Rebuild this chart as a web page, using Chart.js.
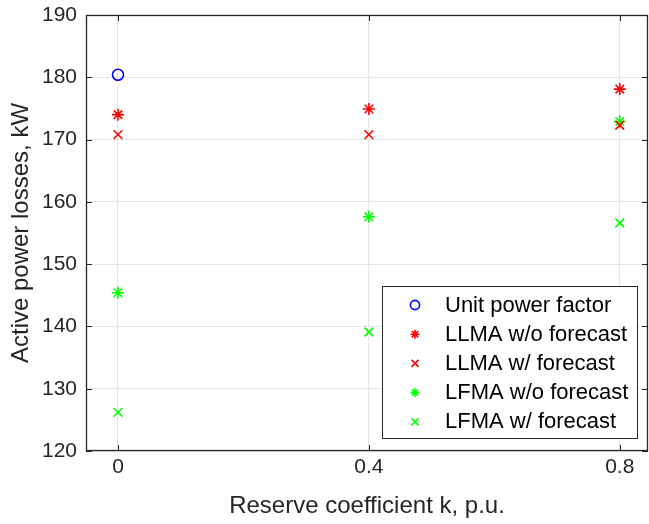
<!DOCTYPE html>
<html>
<head>
<meta charset="utf-8">
<script src="https://cdn.jsdelivr.net/npm/chart.js@4/dist/chart.umd.min.js"></script>
<style>
  body { margin: 0; background: #fff; }
  #wrap { width: 649px; height: 524px; }
</style>
</head>
<body>
<div id="wrap"><canvas id="lossChart" width="649" height="524"></canvas></div>
<script>
const reserveK = [0, 0.4, 0.8];
const xTicks = [0, 0.4, 0.8];
const yTicks = [120, 130, 140, 150, 160, 170, 180, 190];

const unitPF = [180.4];
const llmaNoFc = [174.0, 174.9, 178.1];
const llmaFc = [170.8, 170.8, 172.3];
const lfmaNoFc = [145.4, 157.6, 172.9];
const lfmaFc = [126.2, 139.1, 156.6];

const FONT = "'Liberation Sans', Arial, Helvetica, sans-serif";
const INK = '#262626';

function pts(values) {
  return values.map((v, i) => ({x: reserveK[i], y: v}));
}

function series(label, values, color, style, radius, legendRadius) {
  return {
    label: label,
    data: pts(values),
    pointStyle: style,
    pointRadius: radius,
    pointHoverRadius: radius,
    legendRadius: legendRadius,
    borderColor: color,
    backgroundColor: 'rgba(0,0,0,0)',
    pointBorderWidth: 1.6,
    showLine: false
  };
}

// keep the plot box exactly where the layout padding puts it
function noScalePadding(s) {
  s.paddingTop = 0;
  s.paddingBottom = 0;
  s.paddingLeft = 0;
  s.paddingRight = 0;
}

// inward ticks on all four sides, plus the dark frame
const framePlugin = {
  id: 'frame',
  afterDatasetsDraw(chart) {
    const {ctx, chartArea: a, scales} = chart;
    ctx.save();
    ctx.strokeStyle = INK;
    ctx.lineWidth = 1;
    const len = 6;
    ctx.beginPath();
    yTicks.forEach(t => {
      const y = Math.round(scales.y.getPixelForValue(t)) + 0.5;
      ctx.moveTo(a.left, y); ctx.lineTo(a.left + len, y);
      ctx.moveTo(a.right, y); ctx.lineTo(a.right - len, y);
    });
    xTicks.forEach(t => {
      const x = Math.round(scales.x.getPixelForValue(t)) + 0.5;
      ctx.moveTo(x, a.bottom); ctx.lineTo(x, a.bottom - len);
      ctx.moveTo(x, a.top); ctx.lineTo(x, a.top + len);
    });
    ctx.stroke();
    ctx.lineWidth = 1.3;
    ctx.strokeRect(a.left + 0.5, a.top + 0.5, a.right - a.left - 1, a.bottom - a.top - 1);
    ctx.restore();
  }
};

// boxed legend in the lower right corner of the plot area
const boxLegend = {
  id: 'boxLegend',
  afterDraw(chart) {
    const ctx = chart.ctx;
    const box = {x: 382.5, y: 286.5, w: 255, h: 152};
    ctx.save();
    ctx.fillStyle = '#fff';
    ctx.fillRect(box.x, box.y, box.w, box.h);
    ctx.strokeStyle = INK;
    ctx.lineWidth = 1;
    ctx.strokeRect(box.x, box.y, box.w, box.h);
    ctx.font = '22px ' + FONT;
    ctx.textBaseline = 'middle';
    ctx.textAlign = 'left';
    chart.data.datasets.forEach((ds, i) => {
      const y = 305 + i * 29.2;
      ctx.strokeStyle = ds.borderColor;
      ctx.fillStyle = 'rgba(0,0,0,0)';
      ctx.lineWidth = 1.6;
      Chart.helpers.drawPoint(ctx, {
        pointStyle: ds.pointStyle,
        radius: ds.legendRadius,
        borderWidth: 1.6,
        rotation: 0
      }, 415, y);
      ctx.fillStyle = '#000';
      ctx.fillText(ds.label, 445, y + 0.5);
    });
    ctx.restore();
  }
};

new Chart(document.getElementById('lossChart'), {
  type: 'scatter',
  data: {
    datasets: [
      series('Unit power factor', unitPF, '#0000ff', 'circle', 5.5, 4.6),
      series('LLMA w/o forecast', llmaNoFc, '#ff0000', 'star', 6, 4.5),
      series('LLMA w/ forecast', llmaFc, '#ff0000', 'crossRot', 6.2, 5),
      series('LFMA w/o forecast', lfmaNoFc, '#00ff00', 'star', 6, 4.5),
      series('LFMA w/ forecast', lfmaFc, '#00ff00', 'crossRot', 6.2, 5)
    ]
  },
  options: {
    responsive: false,
    animation: false,
    layout: {autoPadding: false, padding: {top: 15, right: 1, left: 0, bottom: 0}},
    plugins: {
      legend: {display: false},
      tooltip: {enabled: false}
    },
    scales: {
      x: {
        type: 'linear',
        min: -0.051,
        max: 0.845,
        afterBuildTicks: s => { s.ticks = xTicks.map(v => ({value: v})); },
        afterFit: s => { s.height = 73; noScalePadding(s); },
        ticks: {
          color: INK,
          font: {family: FONT, size: 21},
          padding: 4,
          callback: v => String(v)
        },
        grid: {color: '#e5e5e5', drawTicks: false},
        border: {display: false},
        title: {
          display: true,
          text: 'Reserve coefficient k, p.u.',
          color: INK,
          font: {family: FONT, size: 24},
          padding: {top: 0, bottom: 3.6}
        }
      },
      y: {
        type: 'linear',
        min: 120,
        max: 190,
        afterBuildTicks: s => { s.ticks = yTicks.map(v => ({value: v})); },
        afterFit: s => { s.width = 86; noScalePadding(s); },
        ticks: {
          color: INK,
          font: {family: FONT, size: 21},
          padding: 9
        },
        grid: {color: '#e5e5e5', drawTicks: false},
        border: {display: false},
        title: {
          display: true,
          text: 'Active power losses, kW',
          color: INK,
          font: {family: FONT, size: 24},
          padding: {top: 6.6, bottom: 0}
        }
      }
    }
  },
  plugins: [framePlugin, boxLegend]
});
</script>
</body>
</html>
